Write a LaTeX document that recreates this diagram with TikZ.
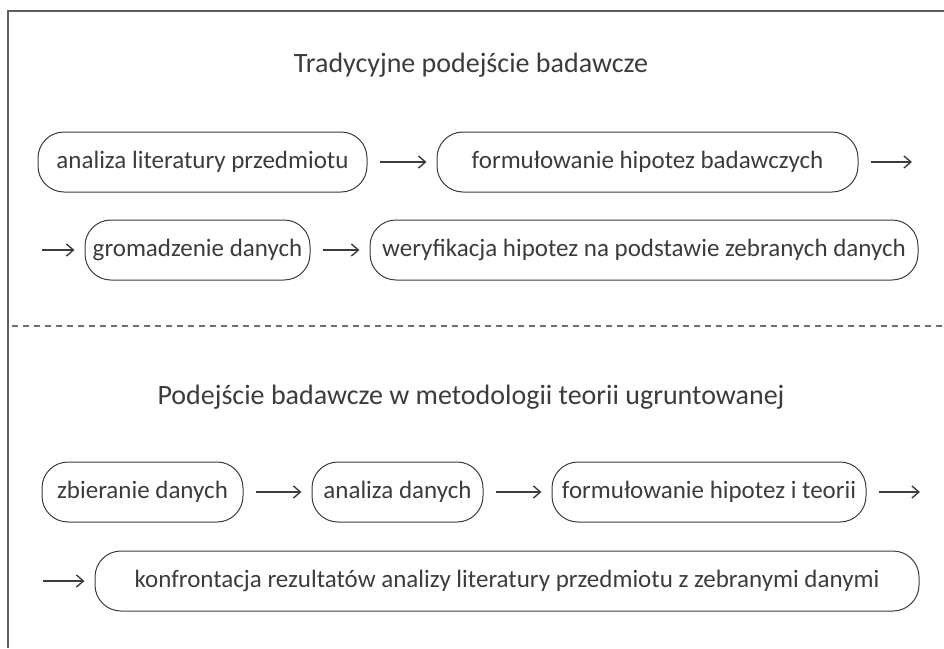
\documentclass[tikz,border=0pt]{standalone}
\usepackage{fontspec}
\setmainfont{Carlito}
\usetikzlibrary{arrows.meta, positioning}
\definecolor{ink}{HTML}{3C3C3C}
\definecolor{edge}{HTML}{5E5E5E}
\definecolor{rule}{HTML}{707070}
\tikzset{
  stage/.style={draw=ink, line width=1pt, rounded corners=26pt,
    minimum height=60pt, inner xsep=0pt, text=ink,
    font=\fontsize{25}{30}\selectfont},
  heading/.style={text=ink, font=\fontsize{28}{33}\selectfont},
  flow/.style={ink, line width=1.4pt, shorten <=12pt, shorten >=10pt,
    -{Straight Barb[length=7pt,width=12pt]}}
}

\begin{document}
\begin{tikzpicture}[x=1pt, y=-1pt]
  \useasboundingbox (0,0) rectangle (944,648);
  % frame
  \draw[edge, line width=1.6pt] (8,648) -- (8,11) -- (944,11);
  % traditional approach
  \node[heading] (trad) at (471,65) {Tradycyjne podejście badawcze};
  \node[stage, minimum width=329pt] (lit) at (202.5,162) {analiza literatury przedmiotu};
  \node[stage, minimum width=421pt] (hyp) at (647.5,162) {formułowanie hipotez badawczych};
  \coordinate (hypout) at (922,162);
  \coordinate (gatin) at (30,250);
  \node[stage, minimum width=225pt] (gat) at (197.5,250) {gromadzenie danych};
  \node[stage, minimum width=548pt] (ver) at (644,250) {weryfikacja hipotez na podstawie zebranych danych};
  \draw[flow] (lit) -- (hyp);
  \draw[flow] (hyp) -- (hypout);
  \draw[flow] (gatin) -- (gat);
  \draw[flow] (gat) -- (ver);
  % separator
  \draw[rule, line width=1.1pt, dash pattern=on 6pt off 5pt] (12,326) -- (944,326);
  % grounded theory
  \node[heading] (grnd) at (471,397) {Podejście badawcze w metodologii teorii ugruntowanej};
  \node[stage, minimum width=201pt] (col) at (142.5,492) {zbieranie danych};
  \node[stage, minimum width=171pt] (ana) at (397.5,492) {analiza danych};
  \node[stage, minimum width=314pt] (thr) at (709,492) {formułowanie hipotez i teorii};
  \coordinate (throut) at (930,492);
  \coordinate (conin) at (31,581);
  \node[stage, minimum width=824pt] (con) at (507,581) {konfrontacja rezultatów analizy literatury przedmiotu z zebranymi danymi};
  \draw[flow] (col) -- (ana);
  \draw[flow] (ana) -- (thr);
  \draw[flow] (thr) -- (throut);
  \draw[flow] (conin) -- (con);
\end{tikzpicture}
\end{document}
